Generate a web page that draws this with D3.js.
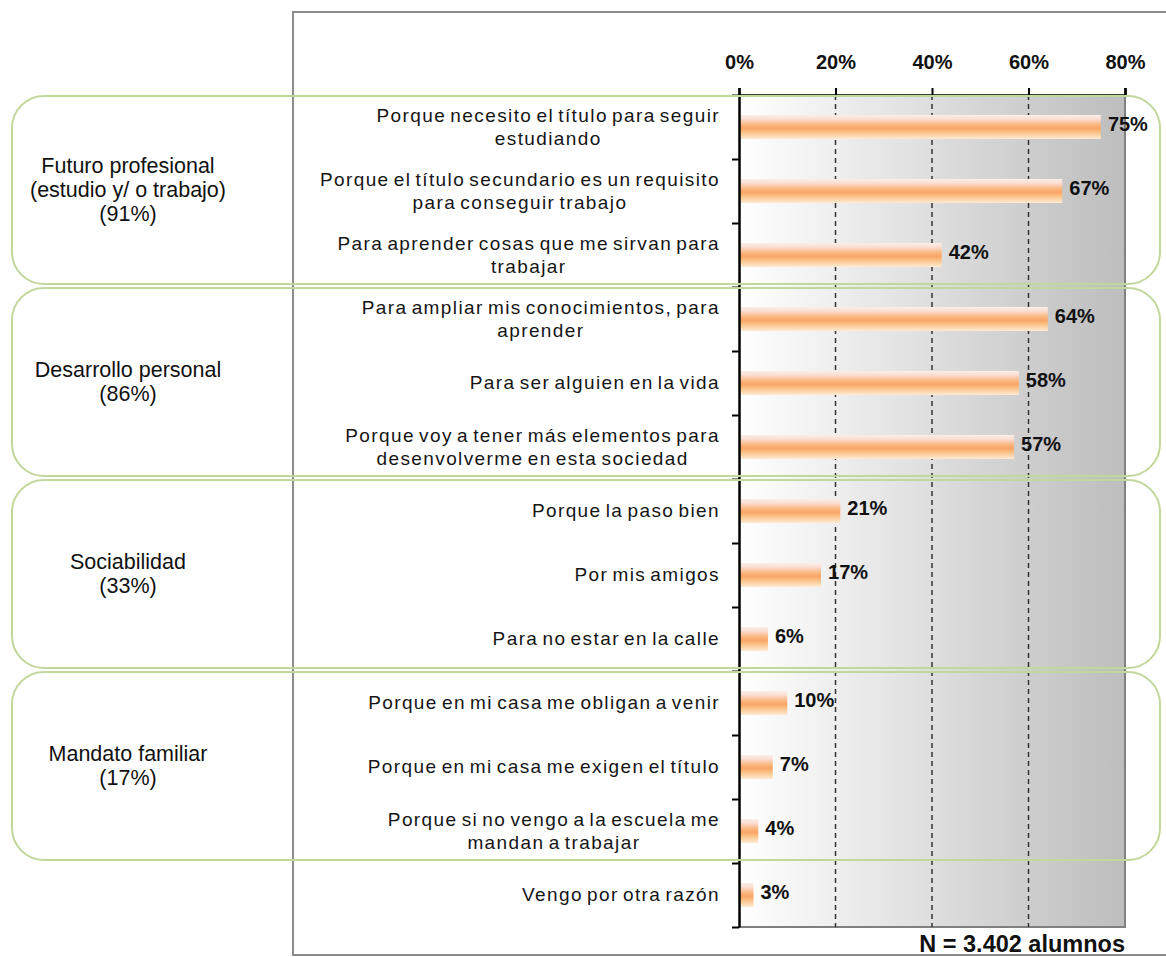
<!DOCTYPE html>
<html>
<head>
<meta charset="utf-8">
<script src="https://cdn.jsdelivr.net/npm/d3@7"></script>
<style>
  body { margin: 0; background: #fff; }
  svg { display: block; font-family: "Liberation Sans", Arial, sans-serif; }
</style>
</head>
<body>
<script>
// Data
let categories = [
  ["Porque necesito el título para seguir", "estudiando"],
  ["Porque el título secundario es un requisito", "para conseguir trabajo"],
  ["Para aprender cosas que me sirvan para", "trabajar"],
  ["Para ampliar mis conocimientos, para", "aprender"],
  ["Para ser alguien en la vida"],
  ["Porque voy a tener más elementos para", "desenvolverme en esta sociedad"],
  ["Porque la paso bien"],
  ["Por mis amigos"],
  ["Para no estar en la calle"],
  ["Porque en mi casa me obligan a venir"],
  ["Porque en mi casa me exigen el título"],
  ["Porque si no vengo a la escuela me", "mandan a trabajar"],
  ["Vengo por otra razón"]
];
let values = [0.75, 0.67, 0.42, 0.64, 0.58, 0.57, 0.21, 0.17, 0.06, 0.10, 0.07, 0.04, 0.03];
let tickValues = [0, 0.2, 0.4, 0.6, 0.8];

let groupNames = [
  ["Futuro profesional", "(estudio y/ o trabajo)", "(91%)"],
  ["Desarrollo personal", "(86%)"],
  ["Sociabilidad", "(33%)"],
  ["Mandato familiar", "(17%)"]
];
let groupStart = [0, 3, 6, 9];
let groupEnd = [3, 6, 9, 12];
let footnote = "N = 3.402 alumnos";

// SVG area
let svgWidth = 1166;
let svgHeight = 957;
let plot = { left: 739, right: 1125, top: 95, bottom: 927 };

let svg = d3.select("body").append("svg")
  .attr("width", svgWidth)
  .attr("height", svgHeight);

let defs = svg.append("defs");

// background gradient (white -> grey)
let bg = defs.append("linearGradient").attr("id", "bgGrad")
  .attr("x1", "0%").attr("x2", "100%").attr("y1", "0%").attr("y2", "0%");
bg.append("stop").attr("offset", "0%").attr("stop-color", "#ffffff");
bg.append("stop").attr("offset", "100%").attr("stop-color", "#bdbdbd");

// bar gradient (pale top, orange middle, pale bottom)
let barGrad = defs.append("linearGradient").attr("id", "barGrad")
  .attr("x1", "0%").attr("x2", "0%").attr("y1", "0%").attr("y2", "100%");
[["0%", "#fdeee8"], ["18%", "#fcdcd0"], ["35%", "#fbbf8f"], ["55%", "#f9a463"],
 ["75%", "#fbc68c"], ["100%", "#fdecd6"]].forEach(s => {
  barGrad.append("stop").attr("offset", s[0]).attr("stop-color", s[1]);
});

// scales
let xScale = d3.scaleLinear().domain([0, 0.8]).range([plot.left, plot.right]);
let rowScale = d3.scaleLinear().domain([0, categories.length]).range([plot.top, plot.bottom]);
let yScale = d3.scaleBand()
  .domain(d3.range(categories.length))
  .range([plot.top, plot.bottom])
  .paddingInner(0.625)
  .paddingOuter(0.3125);

// outer frame
svg.append("rect")
  .attr("x", 293).attr("y", 12)
  .attr("width", 900).attr("height", 943)
  .attr("fill", "none")
  .attr("stroke", "#8c8c8c")
  .attr("stroke-width", 2);

// plot background
svg.append("rect")
  .attr("x", plot.left).attr("y", plot.top)
  .attr("width", plot.right - plot.left)
  .attr("height", plot.bottom - plot.top)
  .attr("fill", "url(#bgGrad)");

svg.append("path")
  .attr("d", `M${plot.right},${plot.top}V${plot.bottom}H${plot.left}`)
  .attr("fill", "none")
  .attr("stroke", "#808080")
  .attr("stroke-width", 2);

// dashed gridlines
svg.append("g").selectAll("line")
  .data(tickValues.slice(1, -1))
  .enter().append("line")
  .attr("x1", d => xScale(d)).attr("x2", d => xScale(d))
  .attr("y1", plot.top).attr("y2", plot.bottom)
  .attr("stroke", "#333")
  .attr("stroke-width", 1.5)
  .attr("stroke-dasharray", "5,4");

// bars
svg.append("g").selectAll("rect")
  .data(values)
  .enter().append("rect")
  .attr("x", xScale(0) + 1)
  .attr("y", (d, i) => yScale(i))
  .attr("width", d => xScale(d) - xScale(0) - 1)
  .attr("height", yScale.bandwidth())
  .attr("fill", "url(#barGrad)");

// value labels
svg.append("g").selectAll("text")
  .data(values)
  .enter().append("text")
  .attr("x", d => xScale(d) + 7)
  .attr("y", (d, i) => yScale(i) + yScale.bandwidth() / 2 + 4)
  .attr("font-size", 20)
  .attr("font-weight", "bold")
  .attr("fill", "#111")
  .text(d => Math.round(d * 100) + "%");

// top axis
let xAxis = d3.axisTop(xScale)
  .tickValues(tickValues)
  .tickSize(7)
  .tickPadding(19)
  .tickFormat(d => Math.round(d * 100) + "%");
let gx = svg.append("g")
  .attr("transform", `translate(0,${plot.top})`)
  .call(xAxis);
gx.select(".domain").attr("stroke", "#000").attr("stroke-width", 2.5);
gx.selectAll(".tick line").attr("stroke", "#000").attr("stroke-width", 2);
gx.selectAll("text")
  .attr("font-size", 20)
  .attr("font-weight", "bold")
  .attr("font-family", "Liberation Sans, Arial, sans-serif")
  .attr("fill", "#111");

// left axis (ticks between rows)
let yAxis = d3.axisLeft(rowScale)
  .tickValues(d3.range(categories.length + 1))
  .tickSize(7)
  .tickSizeOuter(0)
  .tickFormat("");
let gy = svg.append("g")
  .attr("transform", `translate(${plot.left},0)`)
  .call(yAxis);
gy.select(".domain").attr("stroke", "#000").attr("stroke-width", 2.5);
gy.selectAll(".tick line").attr("stroke", "#000").attr("stroke-width", 2);

// category labels (centered block, right edge near axis)
let labelRight = 720;
let catG = svg.append("g");
categories.forEach((lines, i) => {
  let cy = yScale(i) + yScale.bandwidth() / 2;
  let t = catG.append("text")
    .attr("font-size", 19)
    .attr("letter-spacing", 1.4)
    .attr("word-spacing", -2.5)
    .attr("fill", "#151515")
    .attr("text-anchor", "middle");
  let spans = lines.map((line, j) => t.append("tspan")
    .attr("y", cy + 6 + (j - (lines.length - 1) / 2) * 23)
    .text(line));
  let maxW = d3.max(spans, s => s.node().getComputedTextLength());
  spans.forEach(s => s.attr("x", labelRight - maxW / 2));
});

// group boxes
let boxG = svg.append("g");
groupNames.forEach((lines, k) => {
  let top = rowScale(groupStart[k]) + 1;
  let bottom = rowScale(groupEnd[k]) - 3;
  boxG.append("rect")
    .attr("x", 12).attr("y", top)
    .attr("width", 1148).attr("height", bottom - top)
    .attr("rx", 32).attr("ry", 32)
    .attr("fill", "none")
    .attr("stroke", "#c3d69b")
    .attr("stroke-width", 2);
  let cy = (top + bottom) / 2;
  let t = boxG.append("text")
    .attr("font-size", 21.5)
    .attr("fill", "#111")
    .attr("text-anchor", "middle");
  lines.forEach((line, j) => {
    t.append("tspan")
      .attr("x", 128)
      .attr("y", cy + 7 + (j - (lines.length - 1) / 2) * 24)
      .text(line);
  });
});

// footnote
svg.append("text")
  .attr("x", plot.right)
  .attr("y", 952)
  .attr("text-anchor", "end")
  .attr("font-size", 23.5)
  .attr("font-weight", "bold")
  .attr("fill", "#111")
  .text(footnote);
</script>
</body>
</html>
